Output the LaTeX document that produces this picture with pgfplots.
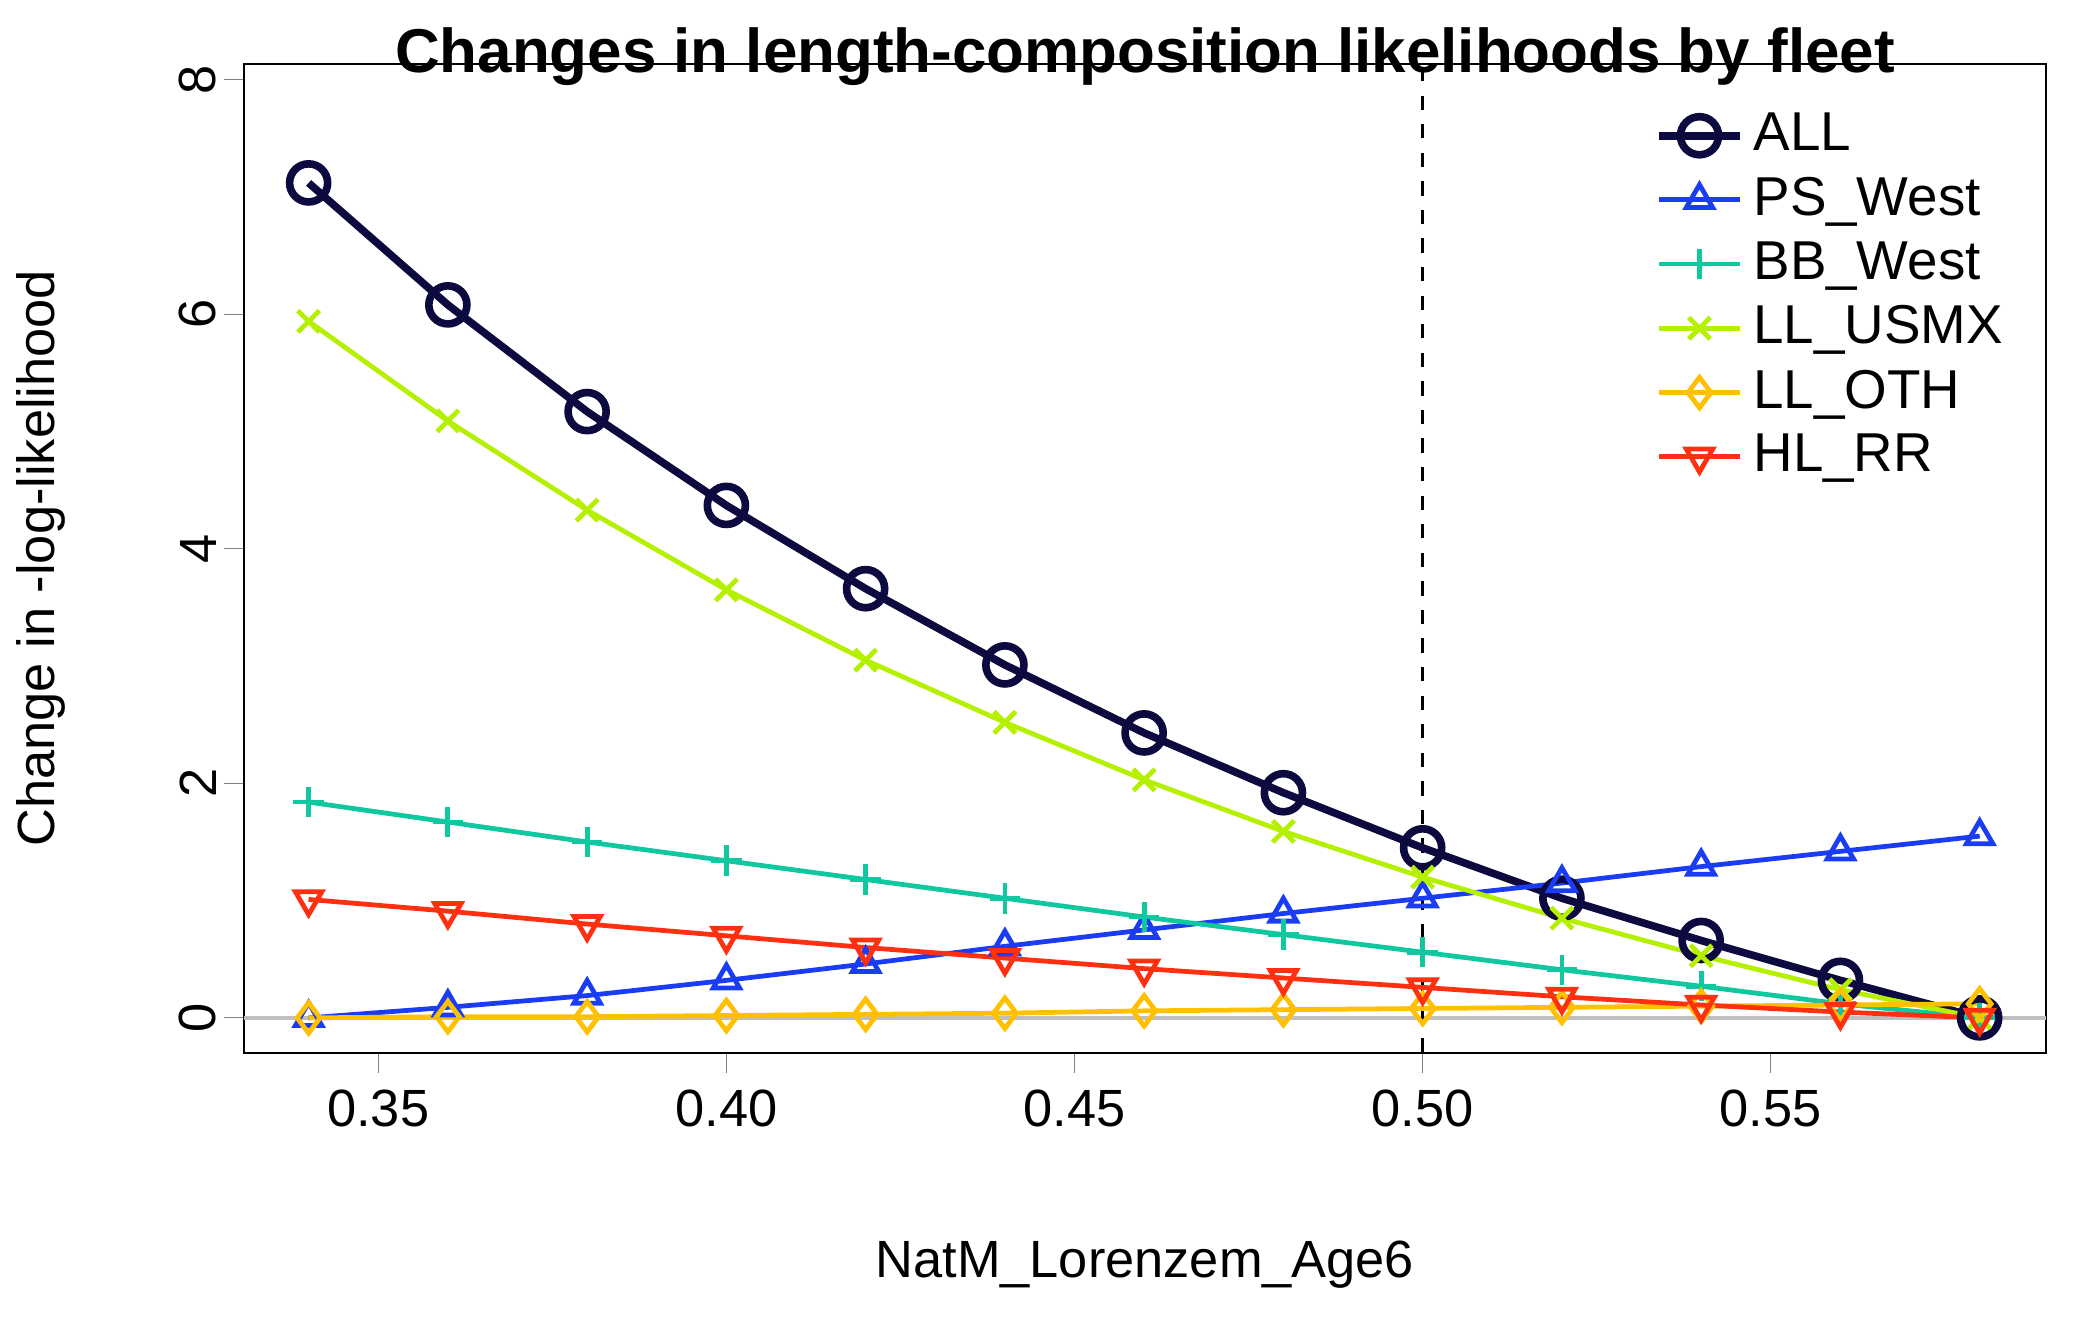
\documentclass[border=0pt]{standalone}
\usepackage{pgfplots}
\pgfplotsset{compat=1.18}
\usepackage{fontspec}
\setmainfont{Liberation Sans}
\definecolor{cAll}{HTML}{0D0A40}
\definecolor{cPS}{HTML}{1A3CF5}
\definecolor{cBB}{HTML}{10C8A0}
\definecolor{cLL}{HTML}{B4F000}
\definecolor{cOT}{HTML}{FFC000}
\definecolor{cHL}{HTML}{FF3010}
\begin{document}
\begin{tikzpicture}
\path[use as bounding box] (-1.80,-2.13) rectangle (13.70,7.77);
\begin{axis}[
  scale only axis, width=13.3cm, height=7.3cm,
  xmin=0.3307, xmax=0.5895, ymin=-0.297, ymax=8.137,
  xtick={0.35,0.40,...,0.55}, ytick={0,2,...,8},
  xticklabels={0.35,0.40,0.45,0.50,0.55},
  tick align=outside, xtick pos=bottom, ytick pos=left,
  major tick length=0.15cm,
  yticklabel style={rotate=90, anchor=south, yshift=-2pt},
  /pgf/number format/assume math mode=true,
  ticklabel style={font=\fontsize{11}{12}\selectfont},
  label style={font=\fontsize{11}{12}\selectfont},
  xlabel={NatM\_Lorenzem\_Age6},
  ylabel={Change in -log-likelihood},
  xlabel style={yshift=-0.6cm},
  ylabel style={yshift=0.6cm},
  title={\textbf{Changes in length-composition likelihoods by fleet}},
  title style={font=\fontsize{13}{14}\selectfont, yshift=-0.5cm},
  legend style={draw=none, fill=none, at={(0.99,0.97)}, anchor=north east, font=\fontsize{11.5}{14}\selectfont, row sep=0pt},
  legend cell align=left,
  every axis plot/.append style={mark size=3.2pt, mark options={solid, fill=none}},
  clip=false,
]
\addplot[gray!50, line width=0.8pt, forget plot] coordinates {(0.3307,0) (0.5895,0)};
\addplot[black, dashed, line width=0.6pt, forget plot] coordinates {(0.5,-0.297) (0.5,8.137)};
\addplot[cAll, line width=1.6pt, mark=o, mark size=4pt] coordinates {(0.34,7.12)(0.36,6.08)(0.38,5.17)(0.40,4.37)(0.42,3.66)(0.44,3.01)(0.46,2.43)(0.48,1.92)(0.50,1.45)(0.52,1.02)(0.54,0.66)(0.56,0.32)(0.58,0.0)};
\addlegendentry{ALL}
\addplot[cPS, line width=1pt, mark=triangle] coordinates {(0.34,0)(0.36,0.09)(0.38,0.19)(0.40,0.32)(0.42,0.46)(0.44,0.61)(0.46,0.75)(0.48,0.89)(0.50,1.02)(0.52,1.15)(0.54,1.29)(0.56,1.42)(0.58,1.55)};
\addlegendentry{PS\_West}
\addplot[cBB, line width=1pt, mark=+] coordinates {(0.34,1.84)(0.36,1.67)(0.38,1.50)(0.40,1.34)(0.42,1.18)(0.44,1.02)(0.46,0.86)(0.48,0.71)(0.50,0.56)(0.52,0.41)(0.54,0.27)(0.56,0.12)(0.58,0.0)};
\addlegendentry{BB\_West}
\addplot[cLL, line width=1pt, mark=x] coordinates {(0.34,5.94)(0.36,5.09)(0.38,4.33)(0.40,3.65)(0.42,3.05)(0.44,2.52)(0.46,2.03)(0.48,1.59)(0.50,1.20)(0.52,0.85)(0.54,0.53)(0.56,0.24)(0.58,0.0)};
\addlegendentry{LL\_USMX}
\addplot[cOT, line width=1pt, mark=diamond] coordinates {(0.34,0)(0.36,0.01)(0.38,0.01)(0.40,0.02)(0.42,0.03)(0.44,0.04)(0.46,0.06)(0.48,0.07)(0.50,0.08)(0.52,0.09)(0.54,0.10)(0.56,0.11)(0.58,0.12)};
\addlegendentry{LL\_OTH}
\addplot[cHL, line width=1pt, mark=triangle, mark options={rotate=180}] coordinates {(0.34,1.01)(0.36,0.91)(0.38,0.80)(0.40,0.70)(0.42,0.60)(0.44,0.51)(0.46,0.42)(0.48,0.34)(0.50,0.26)(0.52,0.18)(0.54,0.11)(0.56,0.05)(0.58,0.0)};
\addlegendentry{HL\_RR}
\end{axis}
\end{tikzpicture}
\end{document}
